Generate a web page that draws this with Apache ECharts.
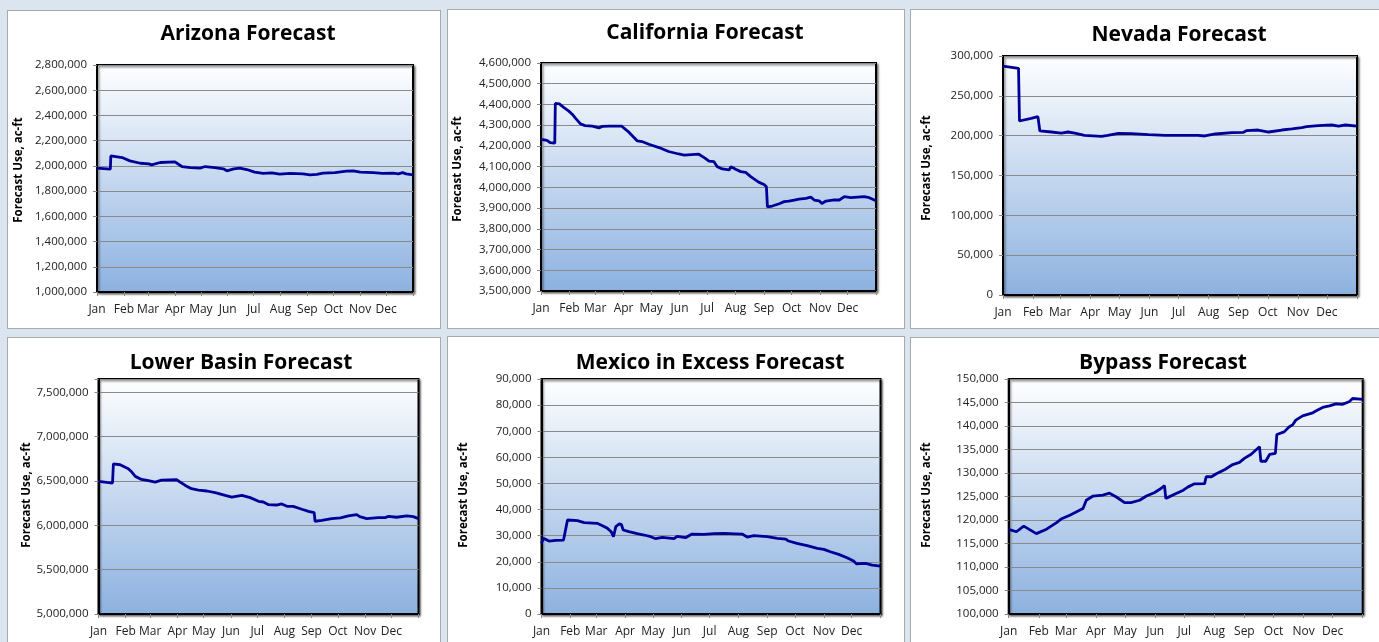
<!DOCTYPE html>
<html>
<head>
<meta charset="utf-8">
<script src="https://cdn.jsdelivr.net/npm/echarts@6/dist/echarts.min.js"></script>
<style>
  html, body { margin: 0; padding: 0; width: 1379px; height: 642px; overflow: hidden; background: #dbe5f0; }
  .panel { position: absolute; background: #ffffff; border: 1px solid #a9a9a9; box-sizing: border-box; }
  #chart { position: absolute; left: 0; top: 0; width: 1379px; height: 642px; }
</style>
</head>
<body>
<div class="panel" style="left:7px;top:10px;width:434px;height:319px;"></div>
<div class="panel" style="left:447px;top:9px;width:458px;height:320px;"></div>
<div class="panel" style="left:910px;top:9px;width:480px;height:320px;"></div>
<div class="panel" style="left:7px;top:337px;width:434px;height:320px;"></div>
<div class="panel" style="left:447px;top:336px;width:458px;height:320px;"></div>
<div class="panel" style="left:910px;top:337px;width:480px;height:320px;"></div>
<div id="chart"></div>
<script>
// ---- tick labels ----
const monthLabels = ['Jan','Feb','Mar','Apr','May','Jun','Jul','Aug','Sep','Oct','Nov','Dec'];
const monthStarts = [0,31,59,90,120,151,181,212,243,273,304,334];
const yearEnd = 365;
const chartTitles = ['Arizona Forecast','California Forecast','Nevada Forecast','Lower Basin Forecast','Mexico in Excess Forecast','Bypass Forecast'];
const yAxisName = 'Forecast Use, ac-ft';

// ---- series data (day of year, value) ----
const azDays = [0,15.4,16,29,38,50,60,63,73,90,98,108,119,125,136,146,150,158,165,173,182,192,202,211,223,238,246,254,261,275,288,296,304,319,330,342,348,353,357,365];
const azValues = [1982000,1974000,2079000,2066000,2040000,2021000,2016000,2008000,2027000,2032000,1995000,1987000,1982000,1995000,1987000,1977000,1961000,1977000,1982000,1971000,1950000,1940000,1945000,1934000,1940000,1937000,1929000,1932000,1942000,1947000,1958000,1961000,1950000,1947000,1940000,1942000,1937000,1947000,1937000,1929000];

const caDays = [0,6.5,10,15,15.6,20,25,30,34,37.5,43,48,56,63,67,74,88,96,105,110,117.5,128.5,139,150,156,172,179,183,188.5,192,197.5,205,207,212,217.6,223,228.5,234,237.6,243,245.6,246.7,252,259.5,265,270,276,281,288.6,294,297.7,303,306,310.5,319.5,325,330.5,337.7,345,352,357.7,365];
const caValues = [4232000,4227000,4216000,4213000,4405000,4403000,4385000,4369000,4353000,4334000,4306000,4298000,4295000,4287000,4294000,4295000,4295000,4265000,4224000,4221000,4208000,4192000,4173000,4161000,4156000,4160000,4140000,4127000,4124000,4100000,4089000,4084000,4100000,4087000,4076000,4072000,4052000,4035000,4024000,4014000,4003000,3906000,3910000,3921000,3931000,3934000,3939000,3943000,3947000,3953000,3939000,3935000,3922000,3934000,3940000,3939000,3955000,3950000,3953000,3955000,3950000,3935000];

const nvDays = [0,16,17,29,36,38,50,60,67,74,84,101.6,108,119,132.6,150,167,184,201,208,219,236,248,251,263,274,287.5,298,308,313,325,339,346,353,365];
const nvValues = [287400,284500,218400,221800,223900,205900,204600,203300,204600,203300,200400,199200,200400,202900,202500,201300,200400,200400,200400,199600,202100,203800,204200,206300,207100,204600,207100,208400,210000,211300,212600,213400,212100,213400,212100];

const lbDays = [0,9.5,16,17,24.7,34,38,42,49,57,64.6,72,89,99,106,114,123.6,133,144.5,152,163.5,173,182.5,188,194,203,209,215,222,232,239.5,246,247,254.7,266,276,285,294.5,298,306,319,327,331,340,351.7,359,365];
const lbValues = [6495000,6484000,6477000,6694000,6683000,6638000,6600000,6552000,6518000,6503000,6488000,6510000,6514000,6450000,6413000,6398000,6387000,6368000,6338000,6319000,6338000,6312000,6271000,6263000,6233000,6229000,6241000,6214000,6214000,6181000,6158000,6143000,6046000,6057000,6076000,6083000,6106000,6121000,6098000,6076000,6087000,6087000,6102000,6091000,6106000,6098000,6076000];

const mxDays = [0,2,8,15.4,23.7,25.5,28,38.7,46,60,65.6,71,75,77.5,80,83.5,86,88,94,103,110.4,117.6,123,130,142.7,146,155,162,175,185.7,196.5,216,221.5,228.6,243,254,263,266,275,286,297,304,311,320,329,336,339,349,356,365];
const mxValues = [27050,29000,27950,28200,28330,31530,36000,35750,35000,34720,33830,32800,31530,29600,33440,34470,34330,32170,31530,30760,30250,29600,28840,29350,28840,29730,29220,30620,30500,30750,30880,30620,29480,29990,29600,28970,28710,27950,27050,26150,25130,24750,23850,22830,21550,20270,19250,19380,18740,18350];

const bpDays = [0,8,15.5,28.5,30,39,49,54,63,76.6,80,87,97,104,111,119.5,126,135,142,150,157,160.6,162,172.7,180,185,191.6,202,203.6,209,214.6,223,231,238,243,250,258.6,260,265,269,275,276.5,284,289,293,296,303,313.5,318.6,323.7,330.6,337.5,344,351,354.6,365];
const bpValues = [118000,117500,118700,117100,116900,118050,119400,120200,121000,122450,124200,125100,125300,125700,124900,123700,123700,124200,125100,125800,126700,127300,124600,125650,126350,127050,127700,127750,129200,129200,129900,130750,131800,132250,133100,134000,135600,132500,132500,133950,134200,138200,138750,139800,140300,141250,142150,142800,143400,143950,144300,144700,144600,145150,145850,145650];

// axis ranges
const yMins = [1000000, 3500000, 0, 5000000, 0, 100000];
const yMaxs = [2800000, 4600000, 300000, 7650000, 90000, 150000];
const yIntervals = [200000, 100000, 50000, 500000, 10000, 5000];

const seriesDays = [azDays, caDays, nvDays, lbDays, mxDays, bpDays];
const seriesValues = [azValues, caValues, nvValues, lbValues, mxValues, bpValues];

// ---- layout (style only) ----
const grids = [
  {left: 97,   top: 65, width: 316, height: 227},
  {left: 541,  top: 63, width: 335, height: 228},
  {left: 1003, top: 56, width: 354, height: 239},
  {left: 98.5, top: 379, width: 320, height: 235},
  {left: 541.5,top: 379, width: 339, height: 235},
  {left: 1008.7,top: 379, width: 354, height: 235}
];
const titlePos = [[248,24],[705,23],[1179,25],[241,353],[710,353],[1163,353]];
const nameGaps = [72, 77, 70, 66, 72, 76];
const namePadLeft = [17, 16, 15, 3, 3, 3];

const FONT = '"Open Sans", "Noto Sans", sans-serif';
const chart = echarts.init(document.getElementById('chart'), null, {renderer: 'canvas'});

const plotBg = {
  type: 'linear', x: 0, y: 0, x2: 0, y2: 1,
  colorStops: [{offset: 0, color: '#ffffff'}, {offset: 1, color: '#8cb1e0'}]
};

const option = {
  animation: false,
  backgroundColor: 'transparent',
  title: chartTitles.map((t, i) => ({
    text: t, left: titlePos[i][0], top: titlePos[i][1], textAlign: 'center', padding: 0,
    textStyle: {fontFamily: FONT, fontWeight: 'bold', fontSize: 21, color: '#000'}
  })),
  grid: grids.map(g => Object.assign({
    show: true, backgroundColor: plotBg, borderColor: '#000', borderWidth: 2,
    shadowColor: 'rgba(0,0,0,0.45)', shadowBlur: 2, shadowOffsetX: 1.5, shadowOffsetY: 1.5,
    containLabel: false
  }, g)),
  xAxis: grids.map((g, i) => ({
    type: 'value', gridIndex: i, min: 0, max: yearEnd,
    axisLine: {show: true, lineStyle: {color: '#000', width: 2}},
    axisTick: {show: true, customValues: monthStarts.concat([yearEnd]), length: 4, lineStyle: {color: '#888'}},
    axisLabel: {
      show: true, customValues: monthStarts, margin: 12,
      fontFamily: FONT, fontSize: 12, color: '#222',
      formatter: v => monthLabels[monthStarts.indexOf(Math.round(v))] || ''
    },
    splitLine: {show: false}
  })),
  yAxis: grids.map((g, i) => ({
    type: 'value', gridIndex: i, min: yMins[i], max: yMaxs[i], interval: yIntervals[i],
    name: yAxisName, nameLocation: 'middle', nameGap: nameGaps[i], nameRotate: 90,
    nameTextStyle: {fontFamily: FONT, fontWeight: 'bold', fontSize: 11.5, color: '#000', padding: [0, 0, 0, namePadLeft[i]]},
    axisLine: {show: true, lineStyle: {color: '#000', width: 2}},
    axisTick: {show: true, length: 4, lineStyle: {color: '#888'}},
    axisLabel: {
      margin: 10, fontFamily: FONT, fontSize: 11.5, color: '#222',
      formatter: v => ((v - yMins[i]) % yIntervals[i] === 0) ? v.toLocaleString('en-US') : ''
    },
    splitLine: {show: true, lineStyle: {color: '#8a8a8a', width: 1}}
  })),
  series: seriesDays.map((days, i) => ({
    type: 'line', xAxisIndex: i, yAxisIndex: i,
    data: days.map((d, k) => [d, seriesValues[i][k]]),
    showSymbol: false, symbol: 'none',
    lineStyle: {color: '#000099', width: 2.8},
    z: 5
  }))
};
chart.setOption(option);
</script>
</body>
</html>
